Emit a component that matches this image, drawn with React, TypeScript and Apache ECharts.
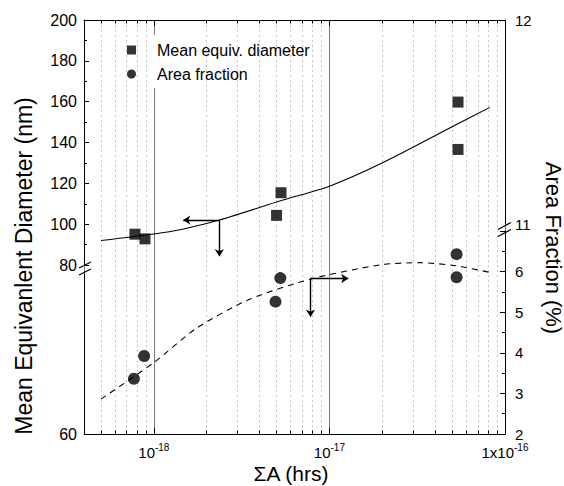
import React, { useEffect, useRef } from "react";
import * as echarts from "echarts";

// ---- data (x in hours) ----
const X_UNIT = 1e-19; // plotted x = hours / X_UNIT (log axis)
const X_MIN = 4e-19;
const X_MAX = 1e-16;
const X_TICKS = [1e-18, 1e-17, 1e-16];
const X_TICK_BASE = ["10", "10", "1x10"];
const X_TICK_EXP = ["-18", "-17", "-16"];

const DIAM_X = [7.8e-19, 8.9e-19, 5.0e-18, 5.3e-18, 5.4e-17, 5.4e-17];
const DIAM_Y = [95.1, 92.8, 104.3, 115.4, 159.8, 136.6];

const AREA_X = [7.7e-19, 8.8e-19, 4.93e-18, 5.25e-18, 5.3e-17, 5.3e-17];
const AREA_Y = [3.36, 3.92, 5.26, 5.84, 6.43, 5.86];

const DIAM_FIT_X = [5e-19, 1e-18, 1.43e-18, 2.36e-18, 5.32e-18, 1e-17, 1.98e-17, 5.32e-17, 8.2e-17];
const DIAM_FIT_Y = [92.0, 95.2, 97.4, 102.0, 111.6, 118.6, 129.8, 148.9, 157.2];

const AREA_FIT_X = [5e-19, 1e-18, 1.74e-18, 3.43e-18, 7.88e-18, 1.98e-17, 3.3e-17, 5.32e-17, 8.2e-17];
const AREA_FIT_Y = [2.86, 3.76, 4.6, 5.3, 5.82, 6.17, 6.22, 6.14, 5.98];

// arrows: [startX, startY, endX (horizontal), endY (vertical)]
const DIAM_ARROW = [2.36e-18, 102, 1.47e-18, 84.3];
const AREA_ARROW = [7.8e-18, 5.83, 1.28e-17, 4.89];

const LEFT_UPPER_TICKS = [80, 200, 20];
const LEFT_LOWER_TICKS = [60, 80, 20];
const RIGHT_LOWER_TICKS = [2, 7, 1];
const RIGHT_UPPER_TICKS = [11, 12, 1];

const FONT = "'Liberation Sans', Arial, Helvetica, sans-serif";
const sx = (v: number) => v / X_UNIT;

export default function App() {
  const ref = useRef<HTMLDivElement>(null);

  useEffect(() => {
    if (!ref.current) return;
    const chart = echarts.init(ref.current, undefined, { renderer: "svg" });

    const gridBase = { left: 84, right: 59, outerBoundsMode: "none", containLabel: false };
    const hiddenX = (gridIndex: number) => ({
      type: "log",
      logBase: 10,
      gridIndex,
      min: sx(X_MIN),
      max: sx(X_MAX),
      show: false,
    });
    const black = { color: "#000", width: 1 };

    const xLabelFormatter = (v: number) => {
      const i = X_TICKS.findIndex((t) => Math.abs(sx(t) - v) < 1e-6 * Math.max(1, v));
      return i < 0 ? "" : `{b|${X_TICK_BASE[i]}}{s|${X_TICK_EXP[i]}}`;
    };

    const arrowLine = (a: number[]) => ({
      silent: true,
      symbol: ["none", "arrow"],
      symbolSize: 7,
      label: { show: false },
      emphasis: { disabled: true },
      lineStyle: { color: "#000", width: 1.4, type: "solid" },
      data: [
        [{ coord: [sx(a[0]), a[1]] }, { coord: [sx(a[2]), a[1]] }],
        [{ coord: [sx(a[0]), a[1]] }, { coord: [sx(a[0]), a[3]] }],
      ],
    });

    const option: any = {
      animation: false,
      backgroundColor: "#fff",
      textStyle: { fontFamily: FONT },
      grid: [
        { ...gridBase, top: 20, bottom: 52 },
        { ...gridBase, top: 20, bottom: 221 },
        { ...gridBase, top: 272, bottom: 52 },
        { ...gridBase, top: 231, bottom: 52 },
        { ...gridBase, top: 20, bottom: 262 },
      ],
      xAxis: [
        {
          type: "log",
          logBase: 10,
          gridIndex: 0,
          position: "bottom",
          min: sx(X_MIN),
          max: sx(X_MAX),
          axisLine: { show: true, onZero: false, lineStyle: black },
          axisTick: { show: true, inside: true, length: 6, lineStyle: black },
          minorTick: { show: true, splitNumber: 9, length: 3.5, lineStyle: black },
          splitLine: { show: true, lineStyle: { color: "#777", width: 1 } },
          minorSplitLine: { show: true, lineStyle: { color: "#c4c4c4", width: 1, type: [2, 3] } },
          axisLabel: {
            show: true,
            interval: 0,
            showMinLabel: true,
            showMaxLabel: true,
            margin: 8,
            formatter: xLabelFormatter,
            rich: {
              b: { fontSize: 15, lineHeight: 18, verticalAlign: "bottom", color: "#000", fontFamily: FONT },
              s: { fontSize: 10, lineHeight: 10, verticalAlign: "top", color: "#000", fontFamily: FONT },
            },
          },
        },
        {
          type: "log",
          logBase: 10,
          gridIndex: 0,
          position: "top",
          min: sx(X_MIN),
          max: sx(X_MAX),
          axisLine: { show: true, onZero: false, lineStyle: black },
          axisTick: { show: true, inside: true, length: 6, lineStyle: black },
          minorTick: { show: true, splitNumber: 9, length: 3.5, lineStyle: black },
          splitLine: { show: false },
          axisLabel: { show: false },
        },
        hiddenX(1),
        hiddenX(2),
        hiddenX(3),
        hiddenX(4),
      ],
      yAxis: [
        { type: "value", gridIndex: 0, min: 0, max: 1, show: false },
        {
          type: "value",
          gridIndex: 1,
          position: "left",
          min: LEFT_UPPER_TICKS[0],
          max: LEFT_UPPER_TICKS[1],
          interval: LEFT_UPPER_TICKS[2],
          axisLine: { show: true, onZero: false, lineStyle: black },
          axisTick: { show: true, inside: true, length: 5, lineStyle: black },
          minorTick: { show: true, splitNumber: 2, length: 3, lineStyle: black },
          splitLine: { show: false },
          axisLabel: { fontSize: 16, margin: 7, color: "#000", fontFamily: FONT },
        },
        {
          type: "value",
          gridIndex: 2,
          position: "left",
          min: LEFT_LOWER_TICKS[0],
          max: LEFT_LOWER_TICKS[1],
          interval: LEFT_LOWER_TICKS[2],
          axisLine: { show: true, onZero: false, lineStyle: black },
          axisTick: { show: false },
          splitLine: { show: false },
          axisLabel: {
            fontSize: 16,
            margin: 7,
            color: "#000",
            fontFamily: FONT,
            formatter: (v: number) => (v === LEFT_LOWER_TICKS[0] ? String(v) : ""),
          },
        },
        {
          type: "value",
          gridIndex: 3,
          position: "right",
          min: RIGHT_LOWER_TICKS[0],
          max: RIGHT_LOWER_TICKS[1],
          interval: RIGHT_LOWER_TICKS[2],
          axisLine: { show: true, onZero: false, lineStyle: black },
          axisTick: { show: true, inside: true, length: 5, lineStyle: black },
          minorTick: { show: true, splitNumber: 2, length: 3, lineStyle: black },
          splitLine: { show: false },
          axisLabel: {
            fontSize: 15,
            margin: 10,
            color: "#000",
            fontFamily: FONT,
            formatter: (v: number) => (v < RIGHT_LOWER_TICKS[1] ? String(v) : ""),
          },
        },
        {
          type: "value",
          gridIndex: 4,
          position: "right",
          min: RIGHT_UPPER_TICKS[0],
          max: RIGHT_UPPER_TICKS[1],
          interval: RIGHT_UPPER_TICKS[2],
          axisLine: { show: true, onZero: false, lineStyle: black },
          axisTick: { show: false },
          splitLine: { show: false },
          axisLabel: { fontSize: 15, margin: 10, color: "#000", fontFamily: FONT },
        },
      ],
      legend: {
        orient: "vertical",
        left: 122,
        top: 37,
        itemWidth: 9,
        itemHeight: 9,
        itemGap: 8,
        selectedMode: false,
        textStyle: { fontSize: 16, color: "#000", fontFamily: FONT, padding: [0, 0, 0, 16] },
        data: [
          { name: "Mean equiv. diameter", icon: "rect" },
          { name: "Area fraction", icon: "circle" },
        ],
      },
      series: [
        {
          name: "diam-fit",
          type: "line",
          xAxisIndex: 2,
          yAxisIndex: 1,
          smooth: 0.25,
          showSymbol: false,
          symbol: "none",
          silent: true,
          lineStyle: { color: "#000", width: 1.1 },
          data: DIAM_FIT_X.map((x, i) => [sx(x), DIAM_FIT_Y[i]]),
          markLine: arrowLine(DIAM_ARROW),
          z: 3,
        },
        {
          name: "Mean equiv. diameter",
          type: "scatter",
          xAxisIndex: 2,
          yAxisIndex: 1,
          symbol: "rect",
          symbolSize: 11,
          itemStyle: { color: "#000" },
          data: DIAM_X.map((x, i) => [sx(x), DIAM_Y[i]]),
          z: 5,
        },
        {
          name: "area-fit",
          type: "line",
          xAxisIndex: 4,
          yAxisIndex: 3,
          smooth: 0.25,
          showSymbol: false,
          symbol: "none",
          silent: true,
          lineStyle: { color: "#000", width: 1.1, type: [6, 5] },
          data: AREA_FIT_X.map((x, i) => [sx(x), AREA_FIT_Y[i]]),
          markLine: arrowLine(AREA_ARROW),
          z: 3,
        },
        {
          name: "Area fraction",
          type: "scatter",
          xAxisIndex: 4,
          yAxisIndex: 3,
          symbol: "circle",
          symbolSize: 12,
          itemStyle: { color: "#000" },
          data: AREA_X.map((x, i) => [sx(x), AREA_Y[i]]),
          z: 5,
        },
      ],
      graphic: [
        // gap of the 10^-18 grid line behind the legend
        { type: "rect", z: 1, silent: true, shape: { x: 151, y: 35, width: 5, height: 53 }, style: { fill: "#fff" } },
        // axis break marks
        { type: "line", z: 10, silent: true, shape: { x1: 79, y1: 268, x2: 91, y2: 262 }, style: { stroke: "#000", lineWidth: 1.2 } },
        { type: "line", z: 10, silent: true, shape: { x1: 79, y1: 275, x2: 91, y2: 269 }, style: { stroke: "#000", lineWidth: 1.2 } },
        { type: "line", z: 10, silent: true, shape: { x1: 498, y1: 229.5, x2: 511, y2: 222.5 }, style: { stroke: "#000", lineWidth: 1.2 } },
        { type: "line", z: 10, silent: true, shape: { x1: 498, y1: 236.5, x2: 511, y2: 229.5 }, style: { stroke: "#000", lineWidth: 1.2 } },
        // axis titles
        {
          type: "text",
          x: 24,
          y: 266,
          rotation: Math.PI / 2,
          style: {
            text: "Mean Equivanlent Diameter (nm)",
            font: `23px ${FONT}`,
            fill: "#000",
            textAlign: "center",
            textVerticalAlign: "middle",
          },
        },
        {
          type: "text",
          x: 553,
          y: 248,
          rotation: -Math.PI / 2,
          style: {
            text: "Area Fraction (%)",
            font: `22px ${FONT}`,
            fill: "#000",
            textAlign: "center",
            textVerticalAlign: "middle",
          },
        },
        {
          type: "text",
          x: 291,
          y: 473,
          style: {
            text: "ΣA (hrs)",
            font: `21px ${FONT}`,
            fill: "#000",
            textAlign: "center",
            textVerticalAlign: "middle",
          },
        },
      ],
    };

    chart.setOption(option);
    return () => chart.dispose();
  }, []);

  return (
    <div
      ref={ref}
      style={{ position: "fixed", left: 0, top: 0, width: 564, height: 486, background: "#fff" }}
    />
  );
}
